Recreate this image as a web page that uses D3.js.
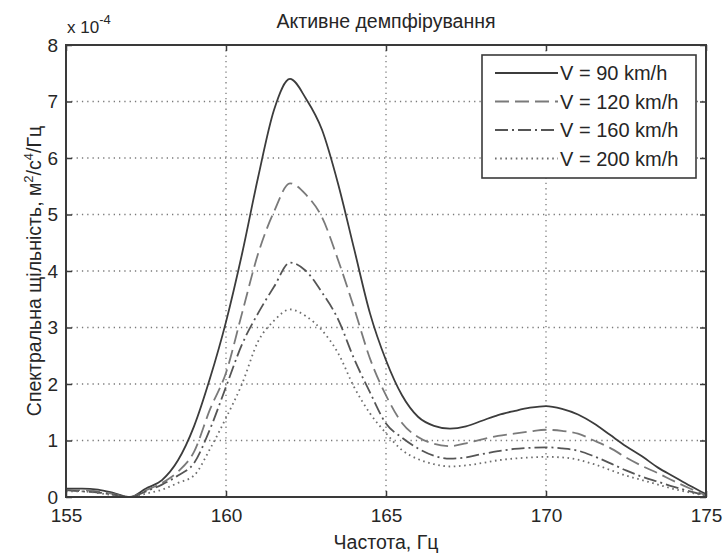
<!DOCTYPE html>
<html>
<head>
<meta charset="utf-8">
<script src="https://cdn.jsdelivr.net/npm/d3@7"></script>
<style>
	body { margin: 0; background: #fff; }
	svg text { font-family: "Liberation Sans", Arial, sans-serif; fill: #262626; }
</style>
</head>
<body>
<svg id="chart"></svg>
<script>
// frequency, Hz
const freq = [155, 155.5, 156, 156.5, 157, 157.5, 158, 158.5, 159, 159.5,
	160, 160.5, 161, 161.5, 162, 162.5, 163, 163.5, 164, 164.5,
	165, 165.5, 166, 166.5, 167, 167.5, 168, 168.5, 169, 169.5,
	170, 170.5, 171, 171.5, 172, 172.5, 173, 173.5, 174, 174.5, 175];
// spectral density, x 1e-4
const v90 = [0.15, 0.15, 0.13, 0.07, 0.0, 0.15, 0.3, 0.65, 1.25, 2.1,
	3.1, 4.3, 5.65, 6.85, 7.4, 7.05, 6.5, 5.55, 4.4, 3.25,
	2.42, 1.8, 1.42, 1.26, 1.21, 1.25, 1.35, 1.45, 1.52, 1.58,
	1.61, 1.56, 1.46, 1.3, 1.1, 0.9, 0.72, 0.52, 0.36, 0.2, 0.05];
const v120 = [0.12, 0.12, 0.1, 0.05, 0.0, 0.12, 0.25, 0.45, 0.8, 1.55,
	2.2, 3.25, 4.3, 5.05, 5.55, 5.35, 4.95, 4.2, 3.35, 2.45,
	1.8, 1.31, 1.06, 0.94, 0.9, 0.95, 1.02, 1.08, 1.12, 1.16,
	1.19, 1.17, 1.12, 1.0, 0.87, 0.7, 0.55, 0.42, 0.28, 0.15, 0.03];
const v160 = [0.12, 0.1, 0.08, 0.04, 0.0, 0.1, 0.22, 0.38, 0.6, 1.2,
	1.95, 2.7, 3.25, 3.72, 4.15, 4.0, 3.62, 3.15, 2.45, 1.85,
	1.3, 1.05, 0.86, 0.73, 0.68, 0.7, 0.76, 0.81, 0.85, 0.87,
	0.88, 0.86, 0.82, 0.72, 0.6, 0.47, 0.36, 0.27, 0.18, 0.1, 0.03];
const v200 = [0.1, 0.1, 0.07, 0.03, 0.0, 0.06, 0.13, 0.25, 0.38, 0.85,
	1.4, 2.0, 2.75, 3.12, 3.32, 3.2, 2.95, 2.55, 1.95, 1.48,
	1.13, 0.83, 0.67, 0.58, 0.54, 0.56, 0.6, 0.65, 0.68, 0.7,
	0.71, 0.7, 0.66, 0.58, 0.48, 0.38, 0.3, 0.22, 0.14, 0.08, 0.02];
const seriesNames = ["V = 90 km/h", "V = 120 km/h", "V = 160 km/h", "V = 200 km/h"];
const xTicks = [155, 160, 165, 170, 175];
const yTicks = [0, 1, 2, 3, 4, 5, 6, 7, 8];

const svgWidth = 724;
const svgHeight = 555;
const margin = {left: 66, right: 18, top: 45, bottom: 58};
const plotW = svgWidth - margin.left - margin.right;
const plotH = svgHeight - margin.top - margin.bottom;

const svg = d3.select("#chart")
	.attr("width", svgWidth)
	.attr("height", svgHeight);

const xScale = d3.scaleLinear().domain([155, 175]).range([margin.left, margin.left + plotW]);
const yScale = d3.scaleLinear().domain([0, 8]).range([margin.top + plotH, margin.top]);

// grid
const grid = svg.append("g")
	.attr("stroke", "#7a7a7a")
	.attr("stroke-width", 1.3)
	.attr("stroke-dasharray", "1.3,4");
grid.selectAll(".gx")
	.data(xTicks.slice(1, -1))
	.enter().append("line")
	.attr("x1", d => xScale(d)).attr("x2", d => xScale(d))
	.attr("y1", margin.top).attr("y2", margin.top + plotH);
grid.selectAll(".gy")
	.data(yTicks.slice(1, -1))
	.enter().append("line")
	.attr("x1", margin.left).attr("x2", margin.left + plotW)
	.attr("y1", d => yScale(d)).attr("y2", d => yScale(d));

// curves
const styles = [
	{color: "#3c3c3c", dash: null, width: 1.8},
	{color: "#7a7a7a", dash: "14,6", width: 1.8},
	{color: "#555555", dash: "13,4,2,4", width: 1.8},
	{color: "#6e6e6e", dash: "1.6,3.6", width: 1.8}
];
const allSeries = [v90, v120, v160, v200];

const line = d3.line()
	.x(d => xScale(d[0]))
	.y(d => yScale(d[1]))
	.curve(d3.curveMonotoneX);

svg.append("g")
	.selectAll("path")
	.data(allSeries)
	.enter().append("path")
	.attr("d", vals => line(freq.map((f, i) => [f, vals[i]])))
	.attr("fill", "none")
	.attr("stroke", (d, i) => styles[i].color)
	.attr("stroke-width", (d, i) => styles[i].width)
	.attr("stroke-dasharray", (d, i) => styles[i].dash)
	.attr("stroke-linejoin", "round");

// axes (inward ticks on all four sides, like matlab)
const tickLen = 6;
function styleAxis(g) {
	g.select(".domain").remove();
	g.selectAll(".tick line").attr("stroke", "#3a3a3a").attr("stroke-width", 1.5);
	g.selectAll(".tick text")
		.attr("font-size", "19px")
		.attr("font-family", "'Liberation Sans', Arial, sans-serif")
		.attr("fill", "#262626");
}
svg.append("g")
	.attr("transform", `translate(0, ${margin.top + plotH})`)
	.call(d3.axisBottom(xScale).tickValues(xTicks).tickSize(-tickLen).tickPadding(12))
	.call(styleAxis);
svg.append("g")
	.attr("transform", `translate(0, ${margin.top})`)
	.call(d3.axisTop(xScale).tickValues(xTicks).tickSize(-tickLen).tickFormat(""))
	.call(styleAxis);
svg.append("g")
	.attr("transform", `translate(${margin.left}, 0)`)
	.call(d3.axisLeft(yScale).tickValues(yTicks).tickSize(-tickLen).tickPadding(8))
	.call(styleAxis);
svg.append("g")
	.attr("transform", `translate(${margin.left + plotW}, 0)`)
	.call(d3.axisRight(yScale).tickValues(yTicks).tickSize(-tickLen).tickFormat(""))
	.call(styleAxis);

// frame
svg.append("rect")
	.attr("x", margin.left).attr("y", margin.top)
	.attr("width", plotW).attr("height", plotH)
	.attr("fill", "none")
	.attr("stroke", "#3a3a3a")
	.attr("stroke-width", 2);

// exponent
const expo = svg.append("text")
	.attr("x", margin.left + 1)
	.attr("y", 33)
	.attr("font-size", "17px");
expo.append("tspan").text("x 10");
expo.append("tspan").attr("dy", -9).attr("font-size", "13px").text("-4");

// title
svg.append("text")
	.text("Активне демпфірування")
	.attr("x", margin.left + plotW / 2)
	.attr("y", 28)
	.attr("font-size", "19.5px")
	.attr("text-anchor", "middle");

// x label
svg.append("text")
	.text("Частота, Гц")
	.attr("x", margin.left + plotW / 2)
	.attr("y", 549)
	.attr("font-size", "19.5px")
	.attr("text-anchor", "middle");

// y label
const yLab = svg.append("text")
	.attr("transform", `translate(41, ${margin.top + plotH / 2}) rotate(-90)`)
	.attr("font-size", "19.5px")
	.attr("text-anchor", "middle");
yLab.append("tspan").text("Спектральна щільність, м");
yLab.append("tspan").attr("dy", -8).attr("font-size", "13px").text("2");
yLab.append("tspan").attr("dy", 8).text("/с");
yLab.append("tspan").attr("dy", -8).attr("font-size", "13px").text("4");
yLab.append("tspan").attr("dy", 8).text("/Гц");

// legend
const legend = svg.append("g");
legend.append("rect")
	.attr("x", 482).attr("y", 55)
	.attr("width", 214).attr("height", 123)
	.attr("fill", "#fff")
	.attr("stroke", "#3a3a3a")
	.attr("stroke-width", 1.6);
const items = legend.selectAll(".item")
	.data(seriesNames)
	.enter().append("g")
	.attr("transform", (d, i) => `translate(0, ${73 + i * 28.5})`);
items.append("line")
	.attr("x1", 495).attr("x2", 558)
	.attr("stroke", (d, i) => styles[i].color)
	.attr("stroke-width", (d, i) => styles[i].width)
	.attr("stroke-dasharray", (d, i) => styles[i].dash);
items.append("text")
	.text(d => d)
	.attr("x", 560)
	.attr("dy", "0.36em")
	.attr("font-size", "20px");
</script>
</body>
</html>
